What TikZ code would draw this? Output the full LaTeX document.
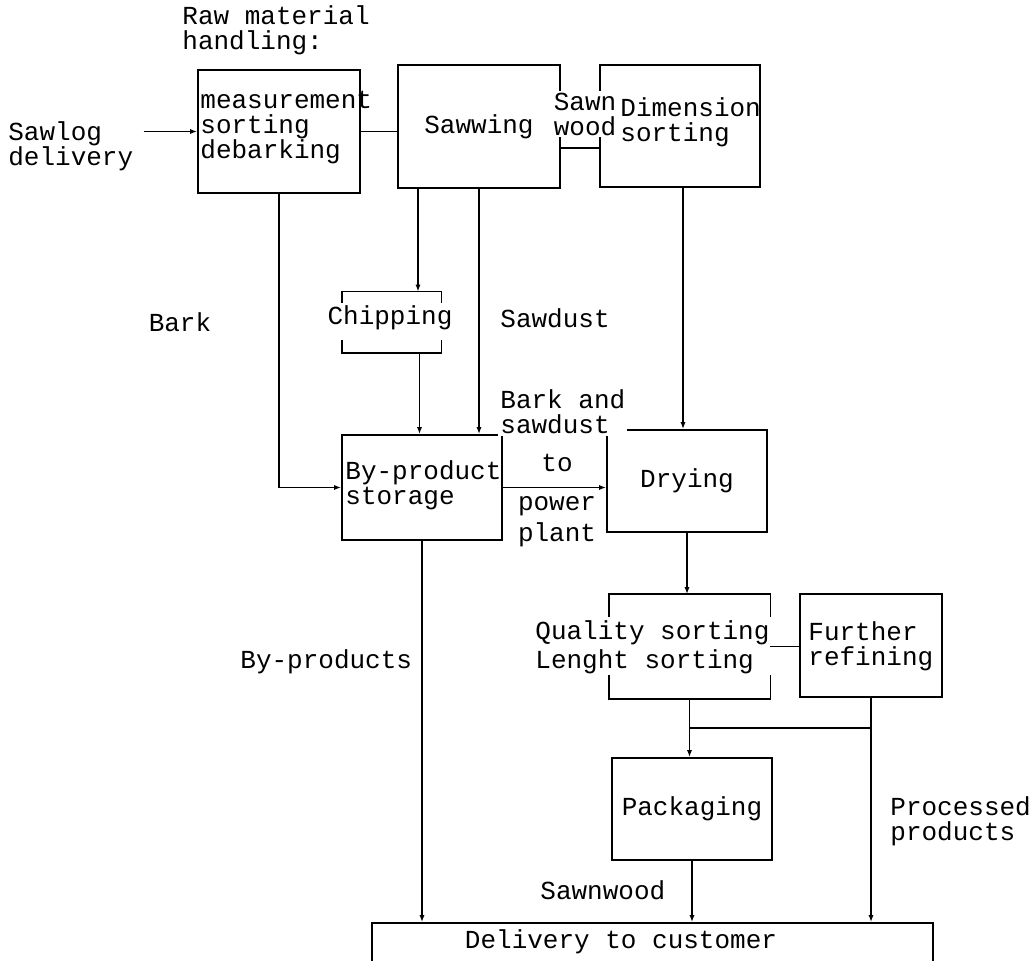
\documentclass[tikz,border=0pt]{standalone}
\usepackage{fontspec}
\newfontfamily\flowfont{Liberation Mono}
\usetikzlibrary{arrows.meta}

\tikzset{
  ftext/.style={font={\flowfont\fontsize{13}{12.5}\selectfont}, inner sep=1pt, align=left},
  fbox/.style={ftext, draw, line width=.9pt, inner sep=0pt},
  fline/.style={line width=.9pt},
  farrow/.style={line width=.9pt, -{Latex[length=3.5pt,width=2.6pt]}}
}

\begin{document}
\begin{tikzpicture}[x=.5pt, y=-.5pt]
\useasboundingbox (0,0) rectangle (1032,961);

% boxes
\node[fbox, minimum width=81pt, minimum height=61.5pt] (raw) at (279,131.5) {};
\node[fbox, minimum width=81pt, minimum height=61.5pt] (saw) at (479,126.5) {Sawwing};
\node[fbox, minimum width=80pt, minimum height=61pt] (dim) at (680,126) {};
\node[minimum width=49.5pt, minimum height=30.5pt, inner sep=0pt] (chip) at (391.5,322.5) {};
\node[fbox, minimum width=80pt, minimum height=52.5pt] (store) at (422,487.5) {};
\node[fbox, minimum width=80pt, minimum height=51pt] (dry) at (687,481) {Drying};
\node[minimum width=80.5pt, minimum height=52pt, inner sep=0pt] (qual) at (689.5,646.5) {};
\node[fbox, minimum width=71pt, minimum height=51.5pt] (refine) at (871,645.5) {};
\node[fbox, minimum width=80pt, minimum height=51pt] (pack) at (692,809) {Packaging};
\node[fbox, minimum width=280.5pt, minimum height=27pt] (deliv) at (652.5,950) {};

% open sided boxes
\draw[fline] ([yshift=-5.5pt]chip.north west) |- (chip.north east) -- ([yshift=-5.5pt]chip.north east);
\draw[fline] ([yshift=6.5pt]chip.south west) |- (chip.south east) -- ([yshift=6.5pt]chip.south east);
\draw[fline] ([yshift=-11.5pt]qual.north west) |- (qual.north east) -- ([yshift=-11.5pt]qual.north east);
\draw[fline] ([yshift=12pt]qual.south west) |- (qual.south east) -- ([yshift=12pt]qual.south east);

% labels
\node[ftext, anchor=west] (rawhead) at (180,30) {Raw material\\handling:};
\node[ftext, anchor=west] (rawtxt) at (198,128) {measurement\\sorting\\debarking};
\node[ftext, anchor=west] (sawlog) at (6,146) {Sawlog\\delivery};
\node[ftext, fill=white] (sawnwood) at (585,114) {Sawn\\wood};
\node[ftext, anchor=west] (dimtxt) at (618,122) {Dimension\\sorting};
\node[ftext] (chiptxt) at (390,318) {Chipping};
\node[ftext] (bark) at (180,322) {Bark};
\node[ftext, anchor=west] (sawdust) at (498,318) {Sawdust};
\node[ftext, anchor=west] (storetxt) at (343,485) {By-product\\storage};
\node[ftext, anchor=west, fill=white] (barksaw) at (498,412) {Bark and\\sawdust};
\node[ftext] (tolbl) at (557,463) {to};
\node[ftext] (power) at (557,522) {power\\[3pt]plant};
\node[ftext, anchor=west] (qualtxt) at (533,647) {Quality sorting\\[2pt]Lenght sorting};
\node[ftext, anchor=west] (refinetxt) at (806,646) {Further\\refining};
\node[ftext, anchor=west] (byprod) at (238,662) {By-products};
\node[ftext, anchor=west] (sawnwd) at (538,890) {Sawnwood};
\node[ftext, anchor=west] (proc) at (888,821) {Processed\\products};
\node[ftext] (delivtxt) at (621,942) {Delivery to customer};

% connectors
\draw[farrow] ([xshift=4pt]sawlog.east |- raw.west) -- (raw.west);
\draw[fline] (raw.east) -- (raw.east -| saw.west);
\draw[fline] ([yshift=-10.75pt]saw.east) -- ([yshift=-10.75pt]saw.east -| dim.west);
\draw[farrow] ([xshift=13.25pt]chip.north |- saw.south) -- ([xshift=13.25pt]chip.north);
\draw[farrow] ([xshift=14pt]chip.south) -- ([xshift=14pt]chip.south |- store.north);
\draw[farrow] (saw.south) -- (saw.south |- store.north);
\draw[farrow] (raw.south) |- (store.west);
\draw[farrow] (store.east) -- (store.east -| dry.west);
\draw[farrow] ([xshift=1.5pt]dim.south) -- ([xshift=1.5pt]dim.south |- dry.north);
\draw[farrow] (dry.south) -- (dry.south |- qual.north);
\draw[fline] (qual.east) -- (qual.east -| refine.west);
\draw[farrow] (qual.south) -- (qual.south |- pack.north);
\coordinate (merge) at (871,728);
\draw[fline] (merge) -- (merge -| qual.south);
\draw[farrow] (refine.south) -- (refine.south |- deliv.north);
\draw[farrow] (store.south) -- (store.south |- deliv.north);
\draw[farrow] (pack.south) -- (pack.south |- deliv.north);
\end{tikzpicture}
\end{document}
